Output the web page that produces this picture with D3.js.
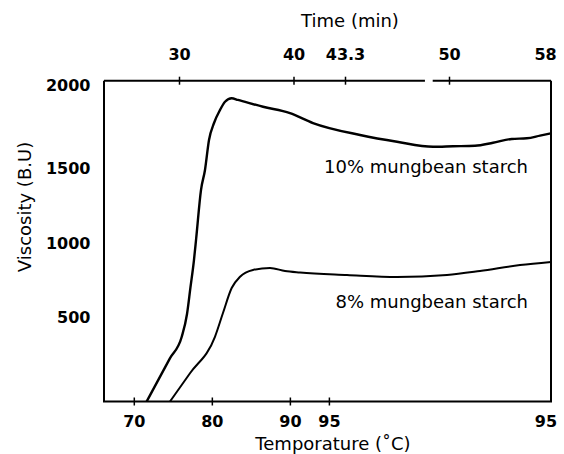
<!DOCTYPE html>
<html>
<head>
<meta charset="utf-8">
<script src="https://cdn.jsdelivr.net/npm/d3@7"></script>
<style>
  html, body { margin: 0; padding: 0; background: #fff; }
  svg { display: block; font-family: 'DejaVu Sans', sans-serif; }
</style>
</head>
<body>
<div id="chart"></div>
<script>
// Brabender curves (time in min, viscosity in B.U)
const time10 = [27.2, 29.2, 30.24, 30.7, 31.0, 31.3, 31.5, 31.92, 32.27, 32.62, 33.06, 33.58, 34.02, 34.6, 35.15, 37.34, 39.69, 41.25, 44.27, 46.65, 48.97, 50.31, 52.04, 53.45, 54.92, 56.1, 57.14, 58];
const visc10 = [0, 254, 383, 520, 700, 880, 1030, 1353, 1487, 1669, 1771, 1849, 1899, 1920, 1910, 1869, 1831, 1771, 1699, 1658, 1628, 1631, 1634, 1652, 1675, 1679, 1695, 1709];
const time8 = [29.22, 30.96, 33.14, 33.84, 34.6, 35.33, 36.46, 37.95, 39.26, 40.42, 43.43, 46.65, 49.87, 52.43, 55.57, 58];
const visc8 = [0, 167, 383, 527, 696, 772, 818, 831, 811, 801, 784, 770, 784, 811, 851, 872];

const timeTicks = [30, 40, 43.3, 50, 58];
const tempTicks = [70, 80, 90, 95];
const tempEndLabel = '95';
const viscTicks = [500, 1000, 1500, 2000];
const topAxisBreak = [48.45, 48.95];
const seriesLabels = ['10% mungbean starch', '8% mungbean starch'];

const width = 564;
const height = 454;
const frameTop = 80.7;

// the hand-drawn axes are uneven, so time and viscosity use piecewise scales
const x = d3.scaleLinear()
  .domain([23.5, 30, 40, 43.3, 50, 58])
  .range([104, 179, 293.5, 345, 449, 551]);

const temp = d3.scaleLinear()
  .domain([70, 95])
  .range([133.8, 328.9]);

const y = d3.scaleLinear()
  .domain([0, 500, 1000, 1500, 2000])
  .range([401.5, 317, 243, 168, 85]);

const [x0, x1] = [x.range()[0], x.range()[x.range().length - 1]];
const y0 = y(0);

const svg = d3.select('#chart').append('svg')
  .attr('width', width)
  .attr('height', height);

// frame: left, right, bottom
svg.append('path')
  .attr('d', `M${x0},${frameTop}V${y0}H${x1}V${frameTop}`)
  .attr('fill', 'none')
  .attr('stroke', '#000')
  .attr('stroke-width', 2);

// top line, broken near 48.5 min
[[x.domain()[0], topAxisBreak[0]], [topAxisBreak[1], 58]].forEach(([a, b]) => {
  svg.append('line')
    .attr('x1', x(a))
    .attr('x2', x(b))
    .attr('y1', frameTop)
    .attr('y2', frameTop)
    .attr('stroke', '#000')
    .attr('stroke-width', 2);
});

const topAxis = svg.append('g')
  .attr('transform', `translate(0,${frameTop})`)
  .call(d3.axisTop(x).tickValues(timeTicks).tickSize(0).tickPadding(20.5).tickFormat(d => d));
topAxis.select('.domain').remove();
topAxis.selectAll('.tick')
  .filter(d => d !== 58)
  .append('line')
  .attr('y1', -4)
  .attr('y2', 4)
  .attr('stroke', '#000')
  .attr('stroke-width', 1.5);
topAxis.selectAll('.tick text').filter(d => d === 58).attr('dx', -6);

const bottomAxis = svg.append('g')
  .attr('transform', `translate(0,${y0})`)
  .call(d3.axisBottom(temp).tickValues(tempTicks).tickSize(0).tickPadding(14).tickFormat(d => d));
bottomAxis.select('.domain').remove();
bottomAxis.selectAll('.tick')
  .append('line')
  .attr('y1', -4)
  .attr('y2', 4)
  .attr('stroke', '#000')
  .attr('stroke-width', 1.5);

const leftAxis = svg.append('g')
  .attr('transform', `translate(${x0},0)`)
  .call(d3.axisLeft(y).tickValues(viscTicks).tickSize(0).tickPadding(13.5).tickFormat(d => d));
leftAxis.select('.domain').remove();

svg.selectAll('.tick text')
  .attr('fill', '#000')
  .style('font-family', "'DejaVu Sans', sans-serif")
  .style('font-size', '16px')
  .style('font-weight', 'bold');

svg.append('text')
  .attr('x', x(58) - 5)
  .attr('y', 427)
  .attr('text-anchor', 'middle')
  .style('font-size', '16px')
  .style('font-weight', 'bold')
  .text(tempEndLabel);

// axis titles
svg.append('text')
  .attr('x', 350)
  .attr('y', 27)
  .attr('text-anchor', 'middle')
  .style('font-size', '18px')
  .text('Time (min)');

svg.append('text')
  .attr('x', 333)
  .attr('y', 450)
  .attr('text-anchor', 'middle')
  .style('font-size', '18px')
  .text('Temporature (\u02DAC)');

svg.append('text')
  .attr('transform', 'translate(31,207) rotate(-90)')
  .attr('text-anchor', 'middle')
  .style('font-size', '18px')
  .text('Viscosity (B.U)');

// curves
const line = d3.line()
  .x(d => x(d[0]))
  .y(d => y(d[1]))
  .curve(d3.curveMonotoneX);

const series = [d3.zip(time10, visc10), d3.zip(time8, visc8)];

svg.selectAll('.curve')
  .data(series)
  .enter().append('path')
  .attr('class', 'curve')
  .attr('d', line)
  .attr('fill', 'none')
  .attr('stroke', '#000')
  .attr('stroke-width', (d, i) => i === 0 ? 2.4 : 2);

svg.selectAll('.curve-label')
  .data(seriesLabels)
  .enter().append('text')
  .attr('class', 'curve-label')
  .attr('x', 528)
  .attr('y', (d, i) => i === 0 ? 172.5 : 308)
  .attr('text-anchor', 'end')
  .style('font-size', '18px')
  .text(d => d);
</script>
</body>
</html>
